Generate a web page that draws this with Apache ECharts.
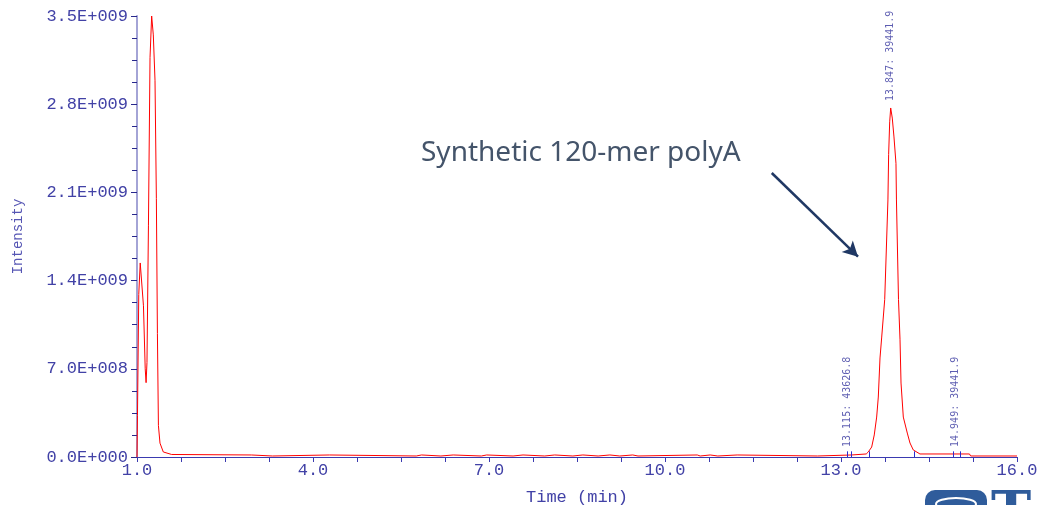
<!DOCTYPE html>
<html>
<head>
<meta charset="utf-8">
<script src="https://cdn.jsdelivr.net/npm/echarts@6/dist/echarts.min.js"></script>
<style>
  html, body { margin: 0; padding: 0; background: #ffffff; overflow: hidden; }
  #chart { width: 1056px; height: 505px; }
</style>
</head>
<body>
<div id="chart"></div>
<script>
// Chromatogram trace: retention time (min) and detector intensity
const traceTime = [
  1.000, 1.008, 1.030, 1.055, 1.085, 1.110, 1.140, 1.155, 1.170, 1.195,
  1.222, 1.250, 1.278, 1.307, 1.330, 1.348, 1.365, 1.392, 1.448, 1.590,
  1.620, 2.950, 2.960, 3.310, 3.320, 4.280, 4.290, 5.760, 5.770, 5.850,
  5.860, 6.180, 6.190, 6.390, 6.400, 6.870, 6.880, 6.960, 6.970, 7.410,
  7.420, 7.580, 7.590, 7.950, 7.960, 8.120, 8.130, 8.430, 8.440, 8.600,
  8.610, 8.860, 8.870, 9.060, 9.070, 9.230, 9.240, 9.450, 9.460, 9.540,
  9.550, 10.550, 10.560, 10.600, 10.610, 10.770, 10.780, 10.900, 10.910, 11.230,
  11.240, 12.600, 12.610, 13.180, 13.190, 13.430, 13.465, 13.523, 13.567, 13.608,
  13.636, 13.665, 13.694, 13.745, 13.800, 13.812, 13.830, 13.847, 13.874, 13.903,
  13.937, 13.945, 13.980, 14.006, 14.023, 14.062, 14.130, 14.176, 14.232, 14.346,
  15.190, 15.210, 16.000
];
const traceIntensity = [
  0.000e9, 0.330e9, 1.290e9, 1.540e9, 1.530e9, 1.200e9, 0.700e9, 0.590e9, 0.750e9, 1.840e9,
  3.170e9, 3.500e9, 3.350e9, 2.990e9, 2.050e9, 0.980e9, 0.250e9, 0.110e9, 0.040e9, 0.020e9,
  0.016e9, 0.016e9, 0.008e9, 0.008e9, 0.016e9, 0.016e9, 0.008e9, 0.008e9, 0.016e9, 0.016e9,
  0.008e9, 0.008e9, 0.016e9, 0.016e9, 0.008e9, 0.008e9, 0.016e9, 0.016e9, 0.008e9, 0.008e9,
  0.016e9, 0.016e9, 0.008e9, 0.008e9, 0.016e9, 0.016e9, 0.008e9, 0.008e9, 0.016e9, 0.016e9,
  0.008e9, 0.008e9, 0.016e9, 0.016e9, 0.008e9, 0.008e9, 0.016e9, 0.016e9, 0.008e9, 0.008e9,
  0.016e9, 0.016e9, 0.008e9, 0.008e9, 0.016e9, 0.016e9, 0.008e9, 0.008e9, 0.016e9, 0.016e9,
  0.008e9, 0.008e9, 0.016e9, 0.016e9, 0.024e9, 0.024e9, 0.040e9, 0.079e9, 0.175e9, 0.317e9,
  0.476e9, 0.786e9, 0.952e9, 1.250e9, 2.040e9, 2.400e9, 2.660e9, 2.770e9, 2.690e9, 2.540e9,
  2.330e9, 2.040e9, 1.250e9, 0.930e9, 0.587e9, 0.317e9, 0.190e9, 0.111e9, 0.056e9, 0.024e9,
  0.024e9, 0.008e9, 0.008e9
];

// Peak annotations: time, intensity where the label sits, label text
const peakLabelTime = [13.115, 13.847, 14.949];
const peakLabelIntensity = [0.024e9, 2.770e9, 0.024e9];
const peakLabelText = ['13.115: 43626.8', '13.847: 39441.9', '14.949: 39441.9'];

// Integration event markers on the baseline
const markerTime = [13.10, 13.17, 13.48, 14.25, 14.91, 15.04];

// Axis ticks
const xTickValues = [1, 4, 7, 10, 13, 16];
const xTickLabels = ['1.0', '4.0', '7.0', '10.0', '13.0', '16.0'];
const xMinorTickValues = [1, 1.75, 2.5, 3.25, 4, 4.75, 5.5, 6.25, 7, 7.75, 8.5, 9.25,
  10, 10.75, 11.5, 12.25, 13, 13.75, 14.5, 15.25, 16];
const yTickLabels = ['0.0E+000', '7.0E+008', '1.4E+009', '2.1E+009', '2.8E+009', '3.5E+009'];

// Callout arrow (start and end in time / intensity)
const calloutTime = [11.82, 13.29];
const calloutIntensity = [2.254e9, 1.590e9];

const mono = '"Liberation Mono", "DejaVu Sans Mono", monospace';
const axisBlue = '#4141a6';

const chart = echarts.init(document.getElementById('chart'), null, { renderer: 'canvas' });

const traceData = traceTime.map((t, i) => [t, traceIntensity[i]]);
const peakLabelData = peakLabelTime.map((t, i) => ({ value: [t, peakLabelIntensity[i]], text: peakLabelText[i] }));

chart.setOption({
  animation: false,
  backgroundColor: '#ffffff',
  grid: { left: 137, right: 39, top: 16, bottom: 48, containLabel: false, outerBoundsMode: 'none' },
  xAxis: {
    type: 'value',
    min: 1,
    max: 16,
    name: 'Time (min)',
    nameLocation: 'middle',
    nameGap: 32,
    nameTextStyle: { color: axisBlue, fontFamily: mono, fontSize: 17 },
    axisLine: { show: true, onZero: false, lineStyle: { color: '#3a3ab0', width: 1 } },
    axisTick: { show: true, customValues: xMinorTickValues, length: 5, inside: false, lineStyle: { color: '#3a3ab0' } },
    axisLabel: {
      customValues: xTickValues,
      color: axisBlue, fontFamily: mono, fontSize: 17, margin: 5,
      formatter: v => xTickLabels[xTickValues.indexOf(v)]
    },
    splitLine: { show: false }
  },
  yAxis: {
    type: 'value',
    min: 0,
    max: 3.5e9,
    interval: 0.7e9,
    name: 'Intensity',
    nameLocation: 'middle',
    nameGap: 112,
    nameTextStyle: { color: '#5656b4', fontFamily: mono, fontSize: 14 },
    axisLine: { show: true, onZero: false, lineStyle: { color: '#a4a4d6', width: 2 } },
    axisTick: { show: true, length: 6, lineStyle: { color: '#28288c' } },
    minorTick: { show: true, splitNumber: 4, length: 5, lineStyle: { color: '#28288c' } },
    axisLabel: {
      color: axisBlue, fontFamily: mono, fontSize: 17, margin: 9,
      formatter: v => yTickLabels[Math.round(v / 0.7e9)]
    },
    splitLine: { show: false },
    minorSplitLine: { show: false }
  },
  series: [
    {
      name: 'trace',
      type: 'line',
      data: traceData,
      showSymbol: false,
      symbol: 'none',
      lineStyle: { color: '#ff0000', width: 1 },
      z: 3,
      markLine: {
        silent: true,
        symbol: 'none',
        label: { show: false },
        lineStyle: { color: '#2a2ad0', width: 1, type: 'solid' },
        data: markerTime.map(t => [{ coord: [t, 0] }, { coord: [t, 0.045e9] }])
      }
    },
    {
      name: 'peaks',
      type: 'scatter',
      data: peakLabelData,
      symbolSize: 0,
      silent: true,
      label: {
        show: true,
        position: [0, -7],
        rotate: 90,
        align: 'left',
        verticalAlign: 'middle',
        color: '#34349e',
        fontFamily: '"DejaVu Sans Mono", monospace',
        fontSize: 10,
        formatter: p => p.data.text
      },
      z: 4
    },
    {
      name: 'callout',
      type: 'line',
      data: [],
      silent: true,
      markLine: {
        silent: true,
        symbol: ['none', 'arrow'],
        symbolSize: [12, 15],
        label: { show: false },
        lineStyle: { color: '#203864', width: 2.5, type: 'solid' },
        data: [[
          { coord: [calloutTime[0], calloutIntensity[0]] },
          { coord: [calloutTime[1], calloutIntensity[1]] }
        ]]
      }
    }
  ],
  graphic: [
    {
      type: 'text',
      left: 421,
      top: 139,
      style: {
        text: 'Synthetic 120-mer polyA',
        font: '28px "Noto Sans"',
        fill: '#44546a'
      }
    },
    {
      type: 'group',
      x: 925,
      y: 490,
      children: [
        { type: 'rect', shape: { x: 0, y: 0, width: 62, height: 30, r: 10 }, style: { fill: '#2f5c9b' } },
        { type: 'ellipse', shape: { cx: 31, cy: 14, rx: 20, ry: 6 }, style: { fill: 'none', stroke: '#ffffff', lineWidth: 2 } },
        { type: 'text', x: 66, y: -1, style: { text: 'T', font: 'bold 54px "DejaVu Serif"', fill: '#2f5c9b' } }
      ]
    }
  ]
});
</script>
</body>
</html>
